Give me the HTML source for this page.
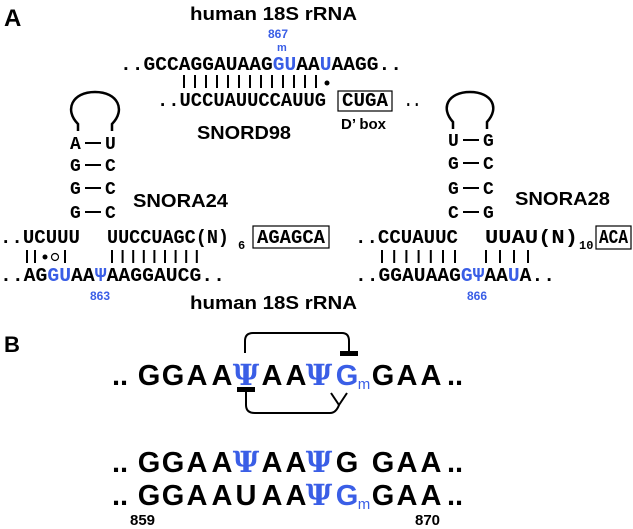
<!DOCTYPE html>
<html><head><meta charset="utf-8"><style>
html,body{margin:0;padding:0;background:#fff;}
svg{display:block;}
.s{font-family:"Liberation Sans",sans-serif;font-weight:bold;fill:#000;}
.m{font-family:"Liberation Mono","DejaVu Sans Mono",monospace;font-weight:bold;fill:#000;}
.b{fill:#3a5ee6;}
.p{fill:#3a5ee6;font-family:"DejaVu Serif",serif;font-weight:bold;}
</style></head><body>
<svg width="633" height="529" viewBox="0 0 633 529" xmlns="http://www.w3.org/2000/svg">
<text class="s" x="4" y="26" font-size="24">A</text>
<text class="s" x="190" y="20" font-size="18" textLength="167" lengthAdjust="spacingAndGlyphs">human 18S rRNA</text>
<text class="s b" x="268" y="38" font-size="12">867</text>
<text class="s b" x="277" y="51" font-size="11">m</text>
<text class="m" x="120" y="70" font-size="19" textLength="282" lengthAdjust="spacingAndGlyphs">..GCCAGGAUAAG<tspan class="b">GU</tspan>AA<tspan class="b">U</tspan>AAGG..</text>
<g stroke="#000" stroke-width="2">
<line x1="184" y1="75" x2="184" y2="88"/><line x1="195" y1="75" x2="195" y2="88"/><line x1="206" y1="75" x2="206" y2="88"/><line x1="217" y1="75" x2="217" y2="88"/><line x1="228" y1="75" x2="228" y2="88"/><line x1="239" y1="75" x2="239" y2="88"/><line x1="250" y1="75" x2="250" y2="88"/><line x1="261" y1="75" x2="261" y2="88"/><line x1="272" y1="75" x2="272" y2="88"/><line x1="283" y1="75" x2="283" y2="88"/><line x1="294" y1="75" x2="294" y2="88"/><line x1="305" y1="75" x2="305" y2="88"/><line x1="316" y1="75" x2="316" y2="88"/>
</g>
<circle cx="327" cy="83" r="2.5" fill="#000"/>
<text class="m" x="157" y="106" font-size="19" textLength="169" lengthAdjust="spacingAndGlyphs">..UCCUAUUCCAUUG</text>
<rect x="338" y="91" width="54" height="20" fill="none" stroke="#000" stroke-width="1.2"/>
<text class="m" x="342" y="106" font-size="19" textLength="46" lengthAdjust="spacingAndGlyphs">CUGA</text>
<text class="m" x="404" y="106" font-size="19" textLength="17" lengthAdjust="spacingAndGlyphs">..</text>
<text class="s" x="341" y="129" font-size="15">D’ box</text>
<text class="s" x="197" y="139" font-size="18" textLength="94" lengthAdjust="spacingAndGlyphs">SNORD98</text>

<path d="M78 131 V124 C64 110 72 92 95 92 C118 92 126 110 112 124 V131" fill="none" stroke="#000" stroke-width="2.5"/>
<g class="m" font-size="18">
<text x="70" y="149">A</text><text x="105" y="149">U</text>
<text x="70" y="171">G</text><text x="105" y="171">C</text>
<text x="70" y="194">G</text><text x="105" y="194">C</text>
<text x="70" y="218">G</text><text x="105" y="218">C</text>
</g>
<g stroke="#000" stroke-width="2">
<line x1="85" y1="143" x2="101" y2="143"/><line x1="85" y1="165" x2="101" y2="165"/><line x1="85" y1="188" x2="101" y2="188"/><line x1="85" y1="212" x2="101" y2="212"/>
</g>
<text class="s" x="133" y="207" font-size="18" textLength="95" lengthAdjust="spacingAndGlyphs">SNORA24</text>
<text class="m" x="0" y="243" font-size="19" textLength="80" lengthAdjust="spacingAndGlyphs">..UCUUU</text>
<text class="m" x="107" y="243" font-size="19" textLength="122" lengthAdjust="spacingAndGlyphs">UUCCUAGC(N)</text>
<text class="m" x="238" y="249" font-size="12">6</text>
<rect x="253" y="226" width="76" height="22" fill="none" stroke="#000" stroke-width="1.2"/>
<text class="m" x="257" y="243" font-size="19" textLength="68" lengthAdjust="spacingAndGlyphs">AGAGCA</text>
<g stroke="#000" stroke-width="2">
<line x1="27" y1="250" x2="27" y2="263"/><line x1="35" y1="250" x2="35" y2="263"/><line x1="65" y1="250" x2="65" y2="263"/>
<line x1="112" y1="250" x2="112" y2="263"/><line x1="122.6" y1="250" x2="122.6" y2="263"/><line x1="133.2" y1="250" x2="133.2" y2="263"/><line x1="143.8" y1="250" x2="143.8" y2="263"/><line x1="154.4" y1="250" x2="154.4" y2="263"/><line x1="165" y1="250" x2="165" y2="263"/><line x1="175.6" y1="250" x2="175.6" y2="263"/><line x1="186.2" y1="250" x2="186.2" y2="263"/><line x1="196.8" y1="250" x2="196.8" y2="263"/>
</g>
<circle cx="45" cy="257" r="2.5" fill="#000"/>
<circle cx="55" cy="257" r="3.5" fill="none" stroke="#000" stroke-width="1.2"/>
<text class="m" x="0" y="281" font-size="19" textLength="225" lengthAdjust="spacingAndGlyphs">..AG<tspan class="b">GU</tspan>AA<tspan class="b">Ψ</tspan>AAGGAUCG..</text>
<text class="s b" x="90" y="300" font-size="12">863</text>
<text class="s" x="190" y="309" font-size="18" textLength="167" lengthAdjust="spacingAndGlyphs">human 18S rRNA</text>

<path d="M453 129 V122 C440 108 448 92 470 92 C492 92 500 108 487 122 V129" fill="none" stroke="#000" stroke-width="2.5"/>
<g class="m" font-size="18">
<text x="448" y="146">U</text><text x="483" y="146">G</text>
<text x="448" y="169">G</text><text x="483" y="169">C</text>
<text x="448" y="194">G</text><text x="483" y="194">C</text>
<text x="448" y="218">C</text><text x="483" y="218">G</text>
</g>
<g stroke="#000" stroke-width="2">
<line x1="463" y1="140" x2="479" y2="140"/><line x1="463" y1="163" x2="479" y2="163"/><line x1="463" y1="188" x2="479" y2="188"/><line x1="463" y1="212" x2="479" y2="212"/>
</g>
<text class="s" x="515" y="205" font-size="18" textLength="95" lengthAdjust="spacingAndGlyphs">SNORA28</text>
<text class="m" x="355" y="243" font-size="19" textLength="103" lengthAdjust="spacingAndGlyphs">..CCUAUUC</text>
<text class="m" x="485" y="243" font-size="19" textLength="93" lengthAdjust="spacingAndGlyphs">UUAU(N)</text>
<text class="m" x="579" y="249" font-size="12">10</text>
<rect x="596" y="226" width="35" height="23" fill="none" stroke="#000" stroke-width="1.2"/>
<text class="m" x="599" y="243" font-size="19" textLength="29" lengthAdjust="spacingAndGlyphs">ACA</text>
<g stroke="#000" stroke-width="2">
<line x1="382" y1="250" x2="382" y2="263"/><line x1="394.2" y1="250" x2="394.2" y2="263"/><line x1="406.4" y1="250" x2="406.4" y2="263"/><line x1="418.6" y1="250" x2="418.6" y2="263"/><line x1="430.8" y1="250" x2="430.8" y2="263"/><line x1="443" y1="250" x2="443" y2="263"/><line x1="455" y1="250" x2="455" y2="263"/>
<line x1="486" y1="250" x2="486" y2="263"/><line x1="500" y1="250" x2="500" y2="263"/><line x1="514" y1="250" x2="514" y2="263"/><line x1="528" y1="250" x2="528" y2="263"/>
</g>
<text class="m" x="355" y="281" font-size="19" textLength="200" lengthAdjust="spacingAndGlyphs">..GGAUAAG<tspan class="b">GΨ</tspan>AA<tspan class="b">U</tspan>A..</text>
<text class="s b" x="467" y="300" font-size="12">866</text>

<text class="s" x="4" y="352" font-size="22">B</text>
<g font-family="Liberation Sans, sans-serif" font-weight="bold" font-size="29" text-anchor="middle">
<text x="120" y="385">..</text>
<text x="149" y="385">G</text><text x="173" y="385">G</text><text x="197" y="385">A</text><text x="222" y="385">A</text>
<text x="246" y="385" class="p">Ψ</text>
<text x="272" y="385">A</text><text x="296" y="385">A</text>
<text x="319" y="385" class="p">Ψ</text>
<text x="347" y="385" fill="#3a5ee6">G</text>
<text x="364" y="389" fill="#3a5ee6" font-size="15" font-weight="normal">m</text>
<text x="383" y="385">G</text><text x="407" y="385">A</text><text x="431" y="385">A</text>
<text x="455" y="385">..</text>

<text x="120" y="472">..</text>
<text x="149" y="472">G</text><text x="173" y="472">G</text><text x="197" y="472">A</text><text x="222" y="472">A</text>
<text x="246" y="472" class="p">Ψ</text>
<text x="272" y="472">A</text><text x="296" y="472">A</text>
<text x="319" y="472" class="p">Ψ</text>
<text x="347" y="472">G</text>
<text x="383" y="472">G</text><text x="407" y="472">A</text><text x="431" y="472">A</text>
<text x="455" y="472">..</text>

<text x="120" y="505">..</text>
<text x="149" y="505">G</text><text x="173" y="505">G</text><text x="197" y="505">A</text><text x="222" y="505">A</text>
<text x="246" y="505">U</text>
<text x="272" y="505">A</text><text x="296" y="505">A</text>
<text x="319" y="505" class="p">Ψ</text>
<text x="347" y="505" fill="#3a5ee6">G</text>
<text x="364" y="509" fill="#3a5ee6" font-size="15" font-weight="normal">m</text>
<text x="383" y="505">G</text><text x="407" y="505">A</text><text x="431" y="505">A</text>
<text x="455" y="505">..</text>
</g>
<text class="s" x="130" y="525" font-size="15">859</text>
<text class="s" x="415" y="525" font-size="15">870</text>
<g fill="none" stroke="#000" stroke-width="2">
<path d="M245 353 V341 Q245 333 253 333 H342 Q349 333 349 341 V352"/>
<path d="M246 390 V405 Q246 413 255 413 H330 Q336 413 339 405"/>
<path d="M331 393 L339 405 L347 393"/>
</g>
<rect x="340" y="351" width="18" height="5" fill="#000"/>
<rect x="237" y="387" width="18" height="5" fill="#000"/>
</svg>
</body></html>
